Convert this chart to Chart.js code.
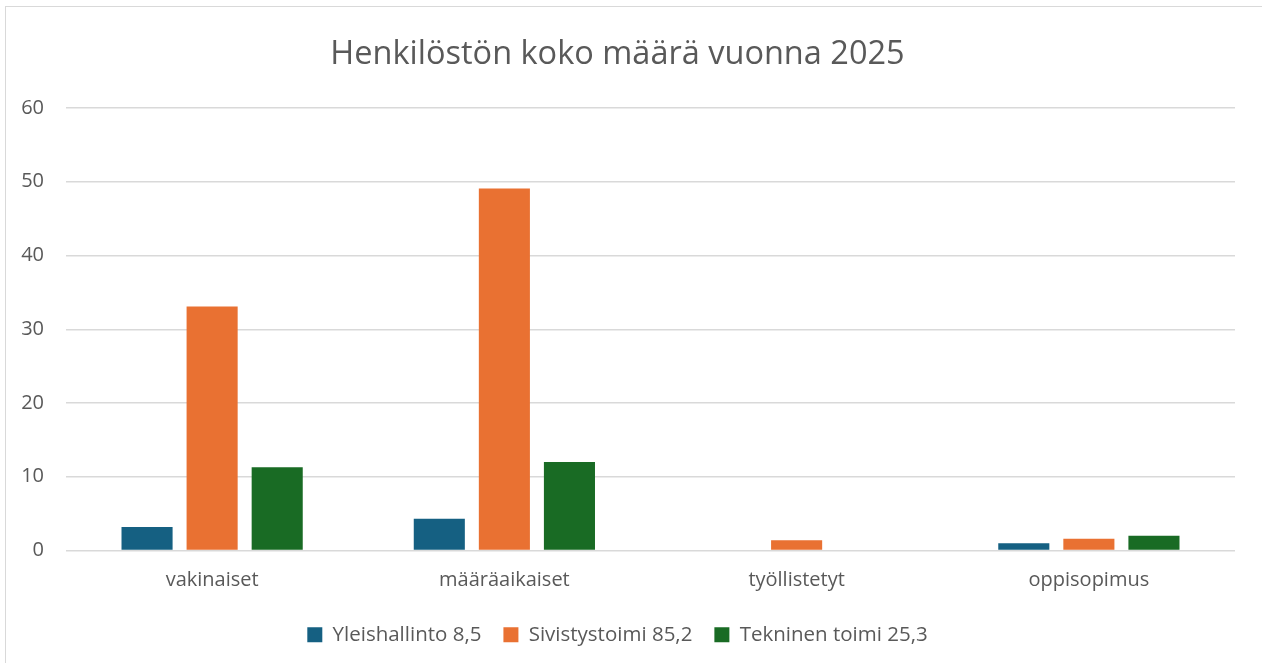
<!DOCTYPE html>
<html>
<head>
<meta charset="utf-8">
<script src="https://cdn.jsdelivr.net/npm/chart.js@4"></script>
<style>
  body { margin: 0; background: #fff; }
  #wrap { position: relative; width: 1262px; height: 663px; }
  #frame { position: absolute; left: 5px; top: 6px; width: 1300px; height: 700px; border: 1px solid #d9d9d9; }
  canvas { position: absolute; left: 0; top: 0; }
</style>
</head>
<body>
<div id="wrap">
  <div id="frame"></div>
  <canvas id="chart" width="1262" height="663"></canvas>
</div>
<script>
const categories = ["vakinaiset", "määräaikaiset", "työllistetyt", "oppisopimus"];
const yleishallinto = [3.2, 4.3, 0, 1.0];
const sivistystoimi = [33.1, 49.1, 1.4, 1.6];
const tekninenToimi = [11.3, 12.0, 0, 2.0];
const seriesLabels = ["Yleishallinto 8,5", "Sivistystoimi 85,2", "Tekninen toimi 25,3"];
const seriesColors = ["#156082", "#e97132", "#196b24"];

const font = "'Open Sans', 'Noto Sans', sans-serif";
const textColor = "#595959";

const ctx = document.getElementById("chart").getContext("2d");

new Chart(ctx, {
  type: "bar",
  data: {
    labels: categories,
    datasets: [yleishallinto, sivistystoimi, tekninenToimi].map((values, i) => ({
      label: seriesLabels[i],
      data: values,
      backgroundColor: seriesColors[i],
      barPercentage: 0.785,
      categoryPercentage: 0.668
    }))
  },
  options: {
    responsive: false,
    animation: false,
    layout: { padding: { left: 0, right: 27, top: 27, bottom: 8 } },
    plugins: {
      title: {
        display: true,
        text: "Henkilöstön koko määrä vuonna 2025",
        color: textColor,
        font: { family: font, size: 32.5, weight: "normal" },
        padding: { top: 8, bottom: 34 }
      },
      legend: {
        position: "bottom",
        labels: {
          color: textColor,
          font: { family: font, size: 20.5 },
          boxWidth: 15,
          boxHeight: 15,
          padding: 22
        }
      },
      tooltip: { enabled: false }
    },
    scales: {
      x: {
        grid: { display: false },
        border: { display: false },
        ticks: { color: textColor, font: { family: font, size: 20 }, padding: 10 }
      },
      y: {
        min: 0,
        max: 60,
        ticks: { stepSize: 10, color: textColor, font: { family: font, size: 20 }, padding: 22 },
        grid: { color: "#d9d9d9", lineWidth: 1.5, drawTicks: false },
        border: { display: false },
        afterFit: scale => { scale.width = 66; }
      }
    }
  }
});
</script>
</body>
</html>
